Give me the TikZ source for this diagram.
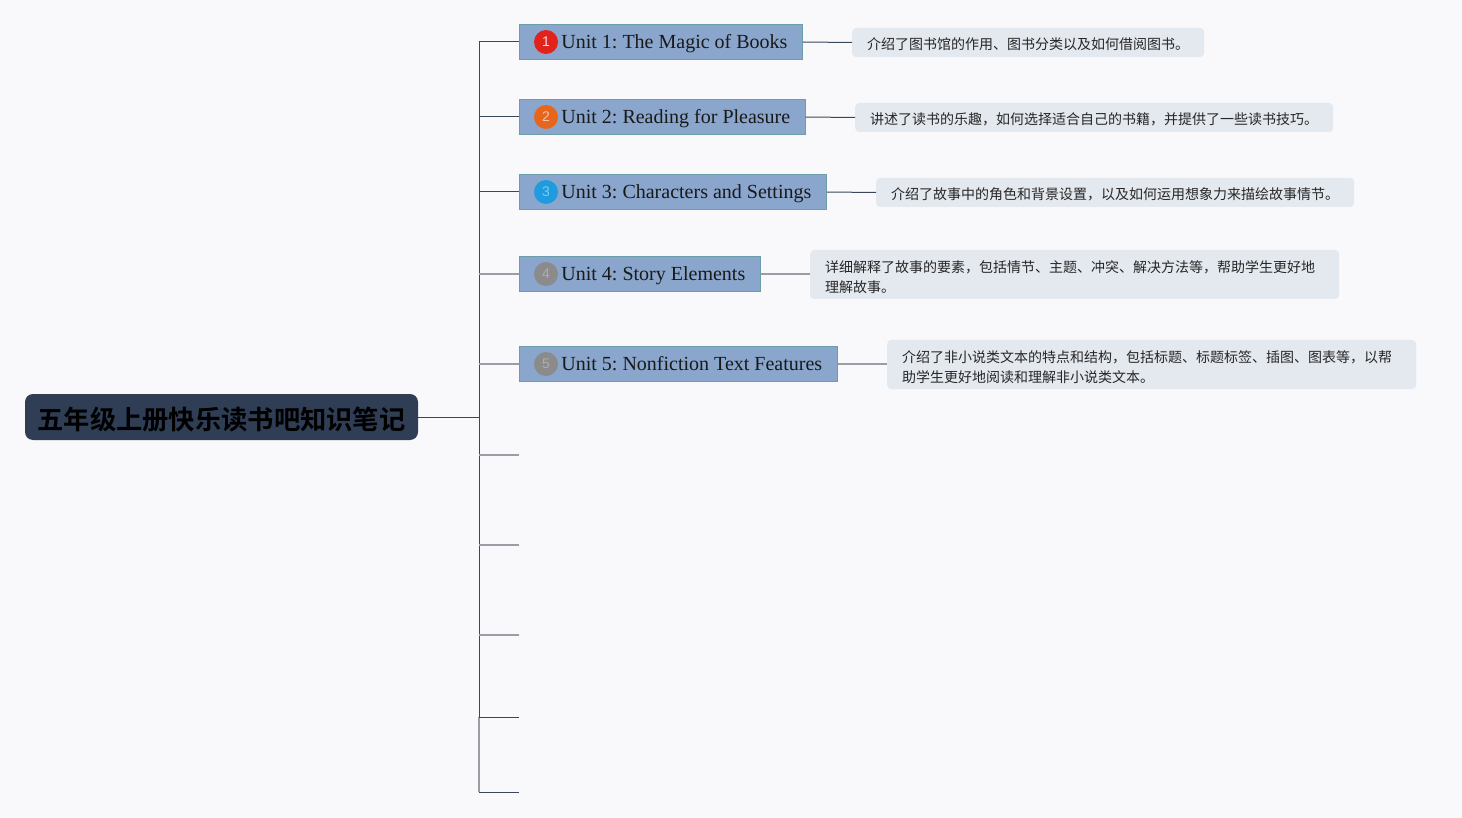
\documentclass[tikz,border=0pt]{standalone}
\usepackage{fontspec}
\setmainfont{Liberation Serif}
\newfontfamily\cjk{Noto Sans CJK SC}
\newfontfamily\cjkb{Noto Sans CJK SC Bold}
\newfontfamily\numf{Liberation Sans}
\frenchspacing
\definecolor{bgc}{HTML}{F9F9FB}
\definecolor{rootc}{HTML}{2F3E55}
\definecolor{unitc}{HTML}{8AA6CC}
\definecolor{unitb}{HTML}{6B9EA9}
\definecolor{descc}{HTML}{E4E9F0}
\definecolor{darkl}{HTML}{3A475A}
\definecolor{greyl}{HTML}{9A9CA6}
\definecolor{c1}{HTML}{E1231B}
\definecolor{c2}{HTML}{E8661C}
\definecolor{c3}{HTML}{1F9BE0}
\definecolor{c4}{HTML}{8B8B8B}
\begin{document}
\begin{tikzpicture}[x=1pt,y=-1pt,
  rootbox/.style={fill=rootc,rounded corners=8pt,minimum width=393pt,minimum height=46pt,inner sep=0pt,text height=24pt,text depth=0pt,font=\cjkb\fontsize{26.3}{30}\selectfont,text=black},
  unitbox/.style={fill=unitc,draw=unitb,line width=0.8pt,anchor=west,minimum height=35pt,inner xsep=0pt,inner ysep=0pt,text height=17pt,text depth=4pt,font=\fontsize{20}{22}\selectfont,text=black!90},
  numc/.style={circle,minimum size=24pt,inner sep=0pt,font=\numf\fontsize{14}{14}\selectfont},
  descbox/.style={fill=descc,rounded corners=4pt,anchor=west,inner xsep=15pt,inner ysep=0pt,minimum height=29pt,font=\cjk\fontsize{14}{20}\selectfont,text=black!85},
  desc1/.style={descbox,text height=13.5pt,text depth=0pt},
  desc2/.style={descbox,minimum height=49pt,text width=499pt,align=left},
  dl/.style={draw=darkl,line width=1pt},
  gl/.style={draw=greyl,line width=1.2pt}]
\fill[bgc] (0,0) rectangle (1462,818);
\useasboundingbox (0,0) rectangle (1462,818);

\node[rootbox] (root) at (221.5,417) {五年级上册快乐读书吧知识笔记};

\coordinate (ttop) at (479,42);
\coordinate (tmid) at (479,717);
\coordinate (tbot) at (479,792);
\draw[dl] (ttop) -- (tmid);
\draw[gl] (tmid) -- (tbot);
\draw[dl] (root.east) -- (root.east -| ttop);

\node[unitbox] (u1) at (519,42) {\hspace*{42pt}Unit 1: The Magic of Books\hspace*{15pt}};
\node[unitbox] (u2) at (519,117) {\hspace*{42pt}Unit 2: Reading for Pleasure\hspace*{15pt}};
\node[unitbox] (u3) at (519,192) {\hspace*{42pt}Unit 3: Characters and Settings\hspace*{15pt}};
\node[unitbox] (u4) at (519,274) {\hspace*{42pt}Unit 4: Story Elements\hspace*{15pt}};
\node[unitbox] (u5) at (519,364) {\hspace*{42pt}Unit 5: Nonfiction Text Features\hspace*{15pt}};

\node[numc,fill=c1,text=white!85!c1] (n1) at (546,42) {1};
\node[numc,fill=c2,text=white!60!c2] (n2) at (546,117) {2};
\node[numc,fill=c3,text=white!45!c3] (n3) at (546,192) {3};
\node[numc,fill=c4,text=white!30!c4] (n4) at (546,274) {4};
\node[numc,fill=c4,text=white!30!c4] (n5) at (546,364) {5};

\draw[dl] (ttop) -- (u1.west);
\draw[dl] (ttop |- u2.west) -- (u2.west);
\draw[dl] (ttop |- u3.west) -- (u3.west);
\draw[gl] (ttop |- u4.west) -- (u4.west);
\draw[gl] (ttop |- u5.west) -- (u5.west);

\coordinate (s6) at (519,455);
\coordinate (s7) at (519,545);
\coordinate (s8) at (519,635);
\coordinate (s9) at (519,717);
\coordinate (s10) at (519,792);
\draw[gl] (ttop |- s6) -- (s6);
\draw[gl] (ttop |- s7) -- (s7);
\draw[gl] (ttop |- s8) -- (s8);
\draw[dl] (tmid) -- (s9);
\draw[dl] (tbot) -- (s10);

\node[desc1] (d1) at (852,42.5) {介绍了图书馆的作用、图书分类以及如何借阅图书。};
\node[desc1] (d2) at (855,117.5) {讲述了读书的乐趣，如何选择适合自己的书籍，并提供了一些读书技巧。};
\node[desc1] (d3) at (876,192.5) {介绍了故事中的角色和背景设置，以及如何运用想象力来描绘故事情节。};
\node[desc2] (d4) at (810,274.5) {\rule{0pt}{16.5pt}详细解释了故事的要素，包括情节、主题、冲突、解决方法等，帮助学生更好地\\理解故事。};
\node[desc2] (d5) at (887,364.5) {\rule{0pt}{16.5pt}介绍了非小说类文本的特点和结构，包括标题、标题标签、插图、图表等，以帮\\助学生更好地阅读和理解非小说类文本。};

\draw[dl] (u1.east) -- (d1.west);
\draw[dl] (u2.east) -- (d2.west);
\draw[dl] (u3.east) -- (d3.west);
\draw[gl] (u4.east) -- (u4.east -| d4.west);
\draw[gl] (u5.east) -- (u5.east -| d5.west);
\end{tikzpicture}
\end{document}
